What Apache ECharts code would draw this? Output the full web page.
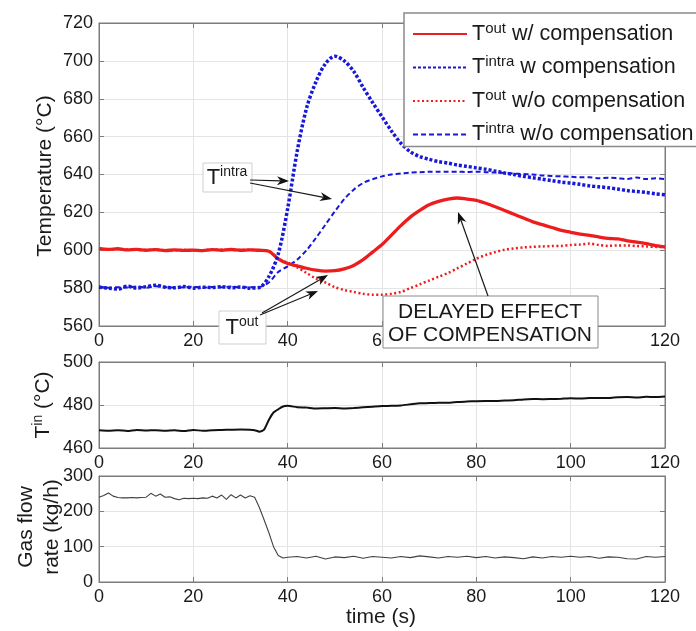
<!DOCTYPE html>
<html><head><meta charset="utf-8">
<script src="https://cdn.jsdelivr.net/npm/echarts@6/dist/echarts.min.js"></script>
<style>html,body{margin:0;padding:0;background:#fff}#c{width:696px;height:631px}</style>
</head><body><div id="c"></div><script>
// ---------- DATA ----------
const timeTop = [0,2,4,6,8,10,12,14,16,18,20,22,24,26,28,30,32,34,36,38,40,42,44,46,48,50,52,54,56,58,60,62,64,66,68,70,72,74,76,78,80,82,84,86,88,90,92,94,96,98,100,102,104,106,108,110,112,114,116,118,120];
const toutWith = [601,600.5,600.8,600.2,600.5,600,600.3,599.8,600.2,599.9,600.1,599.8,600.3,600,600.4,600,600.2,600,
  599.5,595.5,593,591.8,590.5,589.5,589,589.2,590.2,592,595,599,603,608,613,617.5,621,624,625.8,627,627.6,627,626.3,624.8,623,621,619,617,615,613.5,612,610.5,609.5,608.5,607.8,607,606.3,606,605,604.3,603.5,602.5,601.8];
const tintraWith = [580.5,580,579.5,581,580,580.8,581.5,580.5,580.2,580.8,580,580.5,580.3,580.8,580.2,580.6,580,580.3,
  586,598,622,652,675,689,698.5,702.5,700,694.5,686,678,670.5,663,656.5,652,649.5,648,646.8,646,645,644.3,643.5,642.8,641.8,640.8,640,639,638.3,637.5,636.8,636,635.5,634.8,634,633.5,633,632.3,631.5,631,630.5,629.8,629.3];
const toutWithout = [600.8,600.3,600.6,600.4,600.2,600.1,600.5,600,600,600.2,599.9,600,600.4,600.2,600.2,600.1,600.3,599.9,
  599.5,595.5,593.5,591,588,585,583,580.5,579,578,577,576.5,576.5,577,578,580,582,584,586,588,590.5,593,595.5,597.5,599,600.3,601,601.5,601.8,602,602.2,602.3,602.8,603,603.5,602.8,602.3,602.5,602.5,602.2,602,601.8,601.6];
const tintraWithout = [580.8,580.2,580.5,580.3,580.9,580.2,581,580.6,580.3,580.5,580.8,580.2,580.6,580.4,580.9,580.3,580.5,580.6,
  583,588.5,591.5,595,600,606.5,613.5,620.5,627,632,635.5,637.5,639,640,640.5,641,641.2,641.4,641.4,641.5,641.5,641.3,641.5,641.2,641,640.8,640.5,640.2,640,639.5,639.2,639,638.8,638.5,638.5,638,638.3,638,637.6,638.4,637.6,638,637.5];

const timeIn = [0,2,4,6,8,10,12,14,16,18,20,22,24,26,28,30,32,33,34,35,36,37,38,39,40,42,44,46,48,50,52,54,56,58,60,62,64,66,68,70,72,74,76,78,80,82,84,86,88,90,92,94,96,98,100,102,104,106,108,110,112,114,116,118,120];
const tinValues = [468.2,468,468.3,467.9,468.4,468.1,468.3,468,468.2,467.9,468.4,468,468.3,468.4,468.5,468.6,468.5,
  468.3,467.6,468.5,473,476.5,478,479.3,479.6,
  479,478.8,478.4,478.5,478.6,478.4,478.6,478.9,479.2,479.5,479.6,479.8,480.3,480.8,480.9,481.1,481,481.4,481.6,481.8,481.9,481.9,482.1,482.2,482.6,482.8,482.7,482.8,482.9,483.1,483,483.2,483.3,483.2,483.6,483.7,483.5,483.8,483.7,484];

const timeGas = [0,1,2,3,4,5,6,7,8,9,10,11,12,13,14,15,16,17,18,19,20,21,22,23,24,25,26,27,28,29,30,31,32,33,34,35,36,37,38,39,40,42,44,46,48,50,52,54,56,58,60,62,64,66,68,70,72,74,76,78,80,82,84,86,88,90,92,94,96,98,100,102,104,106,108,110,112,114,116,118,120];
const gasFlow = [240,245,252,243,239,238,238,239,238,239,240,251,243,249,240,241,236,233,237,236,237,236,238,237,243,238,246,234,247,238,246,238,244,240,211,176,140,100,75,68,70,
  72,68,73,65,71,69,73,67,72,70,68,72,69,74,71,68,72,70,73,69,72,68,71,69,66,71,68,72,70,73,70,72,67,71,70,66,65,72,70,72];

const xTickRange = [0, 120, 20];
const yTickRanges = [[560, 720, 20], [460, 500, 20], [0, 300, 100]];
const seriesNames = ['Tout w/ compensation', 'Tintra w compensation', 'Tout w/o compensation', 'Tintra w/o compensation'];
const legendLabels = ['{m|T}{s|out}{m| w/ compensation}', '{m|T}{s|intra}{m| w compensation}', '{m|T}{s|out}{m| w/o compensation}', '{m|T}{s|intra}{m| w/o compensation}'];

// ---------- CHART ----------
const FONT = '"Liberation Sans", Arial, Helvetica, sans-serif';
const RED = '#ee1d1d', BLUE = '#1818d8', AX = '#7c7c7c', GRIDC = '#e4e4e4', TXT = '#1a1a1a';
const grids = [
  {left: 99, top: 23, width: 566, height: 303},
  {left: 99, top: 362, width: 566, height: 86},
  {left: 99, top: 476, width: 566, height: 106}
];
function pairs(t, v) { return t.map((x, i) => [x, v[i]]); }

const xAxes = [], yAxes = [];
for (let i = 0; i < 3; i++) {
  xAxes.push({type: 'value', gridIndex: i, position: 'bottom', min: xTickRange[0], max: xTickRange[1], interval: xTickRange[2],
    axisLine: {show: true, onZero: false, lineStyle: {color: AX, width: 1}},
    axisTick: {show: true, inside: true, length: 5, lineStyle: {color: AX}},
    axisLabel: {fontSize: 18, color: TXT, fontFamily: FONT, margin: 6},
    splitLine: {show: true, lineStyle: {color: GRIDC, width: 1}}});
  const r = yTickRanges[i];
  yAxes.push({type: 'value', gridIndex: i, position: 'left', min: r[0], max: r[1], interval: r[2],
    axisLine: {show: true, onZero: false, lineStyle: {color: AX, width: 1}},
    axisTick: {show: true, inside: true, length: 5, lineStyle: {color: AX}},
    axisLabel: {fontSize: 18, color: TXT, fontFamily: FONT, margin: 6},
    splitLine: {show: true, lineStyle: {color: GRIDC, width: 1}}});
}
for (let i = 0; i < 3; i++) {
  xAxes.push({type: 'value', gridIndex: i, position: 'top', min: xTickRange[0], max: xTickRange[1], interval: xTickRange[2],
    axisLine: {show: true, onZero: false, lineStyle: {color: AX, width: 1}},
    axisTick: {show: true, inside: true, length: 5, lineStyle: {color: AX}},
    axisLabel: {show: false}, splitLine: {show: false}});
  const r = yTickRanges[i];
  yAxes.push({type: 'value', gridIndex: i, position: 'right', min: r[0], max: r[1], interval: r[2],
    axisLine: {show: true, onZero: false, lineStyle: {color: AX, width: 1}},
    axisTick: {show: true, inside: true, length: 5, lineStyle: {color: AX}},
    axisLabel: {show: false}, splitLine: {show: false}});
}

const base = {type: 'line', symbol: 'none', showSymbol: false, animation: false, silent: true};
const series = [
  Object.assign({}, base, {name: seriesNames[0], xAxisIndex: 0, yAxisIndex: 0, data: pairs(timeTop, toutWith), smooth: 0.3, z: 3,
    lineStyle: {color: RED, width: 3.3, type: 'solid'}, itemStyle: {color: RED}}),
  Object.assign({}, base, {name: seriesNames[1], xAxisIndex: 0, yAxisIndex: 0, data: pairs(timeTop, tintraWith), smooth: 0.3, z: 4,
    lineStyle: {color: BLUE, width: 3.5, type: [3, 2], cap: 'butt'}, itemStyle: {color: BLUE}}),
  Object.assign({}, base, {name: seriesNames[2], xAxisIndex: 0, yAxisIndex: 0, data: pairs(timeTop, toutWithout), smooth: 0.3, z: 2,
    lineStyle: {color: RED, width: 2.5, type: [2, 2.5], cap: 'butt'}, itemStyle: {color: RED}}),
  Object.assign({}, base, {name: seriesNames[3], xAxisIndex: 0, yAxisIndex: 0, data: pairs(timeTop, tintraWithout), smooth: 0.3, z: 2,
    lineStyle: {color: BLUE, width: 2, type: [5, 3], cap: 'butt'}, itemStyle: {color: BLUE}}),
  Object.assign({}, base, {name: 'Tin', xAxisIndex: 1, yAxisIndex: 1, data: pairs(timeIn, tinValues), smooth: 0.2,
    lineStyle: {color: '#111', width: 2}}),
  Object.assign({}, base, {name: 'Gas', xAxisIndex: 2, yAxisIndex: 2, data: pairs(timeGas, gasFlow),
    lineStyle: {color: '#404040', width: 1.1}})
];

function arrow(x1, y1, x2, y2) {
  const dx = x2 - x1, dy = y2 - y1, len = Math.sqrt(dx * dx + dy * dy);
  const ux = dx / len, uy = dy / len, px = -uy, py = ux;
  const L = 12, W = 4.5, N = 3.5;
  const bx = x2 - ux * L, by = y2 - uy * L;
  const nx = x2 - ux * (L - N), ny = y2 - uy * (L - N);
  return [
    {type: 'line', z: 100, shape: {x1: x1, y1: y1, x2: nx, y2: ny}, style: {stroke: '#1a1a1a', lineWidth: 1.2}},
    {type: 'polygon', z: 100, shape: {points: [[x2, y2], [bx + px * W, by + py * W], [nx, ny], [bx - px * W, by - py * W]]}, style: {fill: '#111'}}
  ];
}
function rtext(x, y, text, rich, rot, font) {
  return {type: 'text', z: 101, x: x, y: y, rotation: rot || 0,
    style: {text: text, rich: rich, font: font, fill: TXT, align: 'center', verticalAlign: 'middle', textAlign: 'center', textVerticalAlign: 'middle'}};
}
const supRich = (big, small, lh) => ({
  m: {fontSize: big, fontFamily: FONT, color: TXT, lineHeight: lh},
  s: {fontSize: small, fontFamily: FONT, color: TXT, lineHeight: small + 1, verticalAlign: 'top'}
});

const graphics = [
  // T^intra annotation
  {type: 'rect', z: 99, shape: {x: 203, y: 163, width: 49, height: 29}, style: {fill: '#fff', stroke: '#cfcfcf', lineWidth: 1}},
  rtext(227, 178, '{m|T}{s|intra}', supRich(22, 14, 26)),
  ...arrow(250, 180, 289, 181),
  ...arrow(250, 183, 332, 199),
  // T^out annotation
  {type: 'rect', z: 99, shape: {x: 219, y: 311, width: 47, height: 33}, style: {fill: '#fff', stroke: '#cfcfcf', lineWidth: 1}},
  rtext(242, 328, '{m|T}{s|out}', supRich(22, 14, 26)),
  ...arrow(262, 313, 328, 275),
  ...arrow(260, 315, 318, 291),
  // Delayed effect annotation
  {type: 'rect', z: 99, shape: {x: 383, y: 296, width: 215, height: 52}, style: {fill: '#fff', stroke: '#8a8a8a', lineWidth: 1}},
  {type: 'text', z: 101, x: 490, y: 324, style: {text: 'DELAYED EFFECT\nOF COMPENSATION', font: '21px ' + FONT, fill: TXT, lineHeight: 23,
    align: 'center', verticalAlign: 'middle', textAlign: 'center', textVerticalAlign: 'middle'}},
  ...arrow(488, 296, 458, 212),
  // axis titles
  rtext(45, 176, 'Temperature (°C)', null, Math.PI / 2, '21px ' + FONT),
  rtext(43, 405, '{m|T}{s|in}{m| (°C)}', supRich(21, 14, 24), Math.PI / 2),
  rtext(26, 527, 'Gas flow', null, Math.PI / 2, '21px ' + FONT),
  rtext(52, 527, 'rate (kg/h)', null, Math.PI / 2, '21px ' + FONT),
  rtext(381, 617, 'time (s)', null, 0, '21px ' + FONT)
];

const chart = echarts.init(document.getElementById('c'), null, {renderer: 'canvas'});
chart.setOption({
  backgroundColor: '#fff',
  animation: false,
  grid: grids.map(g => Object.assign({show: true, borderColor: AX, borderWidth: 1, backgroundColor: 'transparent', containLabel: false}, g)),
  xAxis: xAxes,
  yAxis: yAxes,
  legend: {
    data: seriesNames, left: 404, top: 13, orient: 'vertical', selectedMode: false,
    itemWidth: 54, itemHeight: 12, itemGap: 9.5, padding: [8, 12, 1, 8],
    backgroundColor: '#fff', borderColor: '#8a8a8a', borderWidth: 1.5, z: 50,
    itemStyle: {opacity: 0, borderWidth: 0},
    formatter: function (n) { return legendLabels[seriesNames.indexOf(n)]; },
    textStyle: {fontFamily: FONT, fontSize: 21, color: TXT, rich: supRich(21.5, 15, 26)}
  },
  series: series,
  graphic: graphics
});
</script></body></html>
